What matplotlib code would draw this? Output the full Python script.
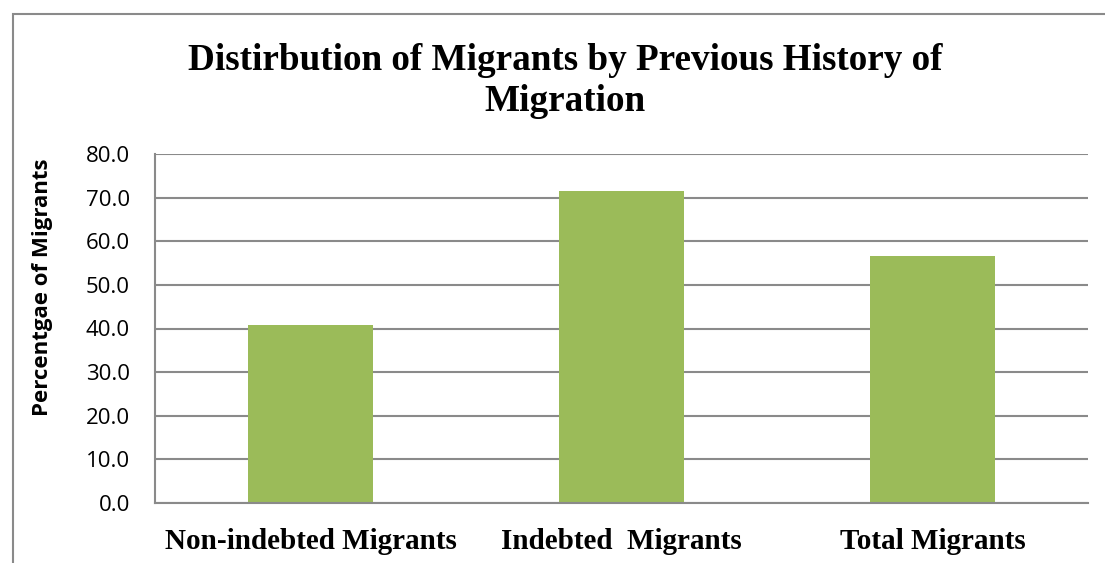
import matplotlib
matplotlib.use("Agg")
import matplotlib.pyplot as plt
from matplotlib.patches import Rectangle

categories = ["Non-indebted Migrants", "Indebted  Migrants", "Total Migrants"]
values = [40.8, 71.6, 56.7]
yticks = [0, 10, 20, 30, 40, 50, 60, 70, 80]

fig = plt.figure(figsize=(11.05, 5.63), dpi=100)
ax = fig.add_axes([155/1105, 1-503/563, (1088-155)/1105, (503-154)/563])

grid_c = "#8a8a8a"
ax.set_axisbelow(True)
ax.yaxis.grid(True, color=grid_c, linewidth=1.5)
ax.bar(range(len(categories)), values, width=0.40, color="#9BBB59", zorder=2)
ax.set_xlim(-0.5, 2.5)
ax.set_ylim(0, 80)
ax.set_yticks(yticks)
ax.set_yticklabels([f"{v:.1f}" for v in yticks], fontsize=16, family="Open Sans")
ax.set_xticks(range(len(categories)))
ax.set_xticklabels(categories, fontsize=21, family="Liberation Serif", fontweight="bold")
ax.tick_params(axis="y", length=0, pad=18)
ax.tick_params(axis="x", length=0, pad=18)
for s in ["top", "right"]:
    ax.spines[s].set_visible(False)
for s in ["left", "bottom"]:
    ax.spines[s].set_color(grid_c)
    ax.spines[s].set_linewidth(1.5)

fig.text(43/1105, 1-287/563, "Percentgae of Migrants", rotation=90, ha="center", va="center",
         fontsize=16, family="Open Sans", fontweight="bold")

title_lines = ["Distirbution of Migrants by Previous History of", "Migration"]
fig.text(565/1105, 1-60/563, title_lines[0], ha="center", va="center",
         fontsize=26.7, family="Liberation Serif", fontweight="bold")
fig.text(565/1105, 1-102/563, title_lines[1], ha="center", va="center",
         fontsize=26.7, family="Liberation Serif", fontweight="bold")

fig.patches.append(Rectangle((13/1105, -0.1), 1.2, 1-14/563+0.1, transform=fig.transFigure,
                             fill=False, edgecolor="#8a8a8a", linewidth=1.5))

fig.savefig("out.png", dpi=100)
